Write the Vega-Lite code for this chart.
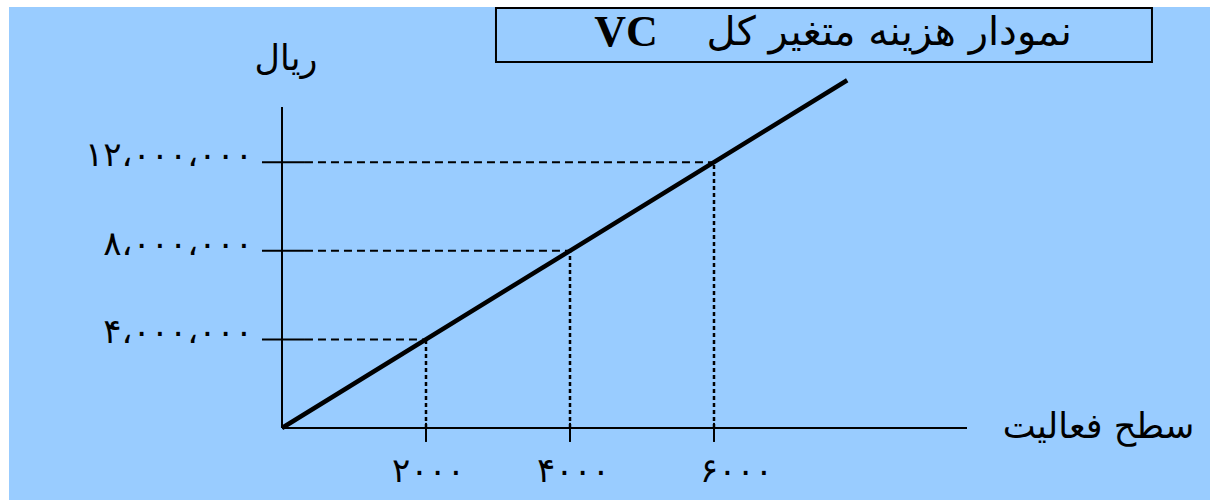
{
  "$schema": "https://vega.github.io/schema/vega-lite/v6.json",
  "autosize": "none",
  "padding": {"left": 9, "top": 7, "right": 0, "bottom": 0},
  "width": 1201,
  "height": 493,
  "background": "white",
  "view": {"fill": "#99ccff", "stroke": null},
  "datasets": {
    "curve": [{"x": 0, "y": 0}, {"x": 7850, "y": 15700000}],
    "axes": [
      {"x": 0, "x2": 0, "y": 0, "y2": 14490000},
      {"x": 0, "x2": 9514, "y": 0, "y2": 0}
    ],
    "yticks": [
      {"x": -278, "x2": 319, "y": 4000000, "y2": 4000000},
      {"x": -278, "x2": 319, "y": 8000000, "y2": 8000000},
      {"x": -278, "x2": 319, "y": 12000000, "y2": 12000000}
    ],
    "hdash": [
      {"x": 319, "x2": 2000, "y": 4000000, "y2": 4000000},
      {"x": 319, "x2": 4000, "y": 8000000, "y2": 8000000},
      {"x": 319, "x2": 6000, "y": 12000000, "y2": 12000000}
    ],
    "xticks": [
      {"x": 2000, "x2": 2000, "y": 230000, "y2": -630000},
      {"x": 4000, "x2": 4000, "y": 230000, "y2": -630000},
      {"x": 6000, "x2": 6000, "y": 230000, "y2": -630000}
    ],
    "vdash": [
      {"x": 2000, "x2": 2000, "y": 0, "y2": 4000000},
      {"x": 4000, "x2": 4000, "y": 0, "y2": 8000000},
      {"x": 6000, "x2": 6000, "y": 0, "y2": 12000000}
    ],
    "ylabels": [
      {"x": -403, "y": 4000000, "t": "۴،۰۰۰،۰۰۰"},
      {"x": -403, "y": 8000000, "t": "۸،۰۰۰،۰۰۰"},
      {"x": -403, "y": 12000000, "t": "۱۲،۰۰۰،۰۰۰"}
    ],
    "xlabels": [
      {"x": 1528, "y": -2000000, "t": "۲۰۰۰"},
      {"x": 3542, "y": -2000000, "t": "۴۰۰۰"},
      {"x": 5806, "y": -2000000, "t": "۶۰۰۰"}
    ],
    "box": [{"x": 2972, "x2": 12083, "y": 18960000, "y2": 16520000}],
    "texts": [
      {"x": 55, "y": 16650000, "t": "ریال"},
      {"x": 11340, "y": 50000, "t": "سطح فعالیت"}
    ],
    "title": [{"x": 10970, "y": 17850000, "t": "نمودار هزینه متغیر کل"}],
    "vc": [{"x": 4778, "y": 17820000, "t": "VC"}]
  },
  "layer": [
    {
      "data": {"name": "box"},
      "mark": {"type": "rect", "fill": null, "stroke": "black", "strokeWidth": 2},
      "encoding": {
        "x": {"field": "x", "type": "quantitative", "scale": {"domain": [-3791.67, 12888.9], "nice": false, "zero": false}, "axis": null},
        "x2": {"field": "x2"},
        "y": {"field": "y", "type": "quantitative", "scale": {"domain": [-3250584, 19006887], "nice": false, "zero": false}, "axis": null},
        "y2": {"field": "y2"}
      }
    },
    {
      "data": {"name": "axes"},
      "mark": {"type": "rule", "color": "black", "strokeWidth": 2},
      "encoding": {"x": {"field": "x", "type": "quantitative"}, "x2": {"field": "x2"}, "y": {"field": "y", "type": "quantitative"}, "y2": {"field": "y2"}}
    },
    {
      "data": {"name": "yticks"},
      "mark": {"type": "rule", "color": "black", "strokeWidth": 2},
      "encoding": {"x": {"field": "x", "type": "quantitative"}, "x2": {"field": "x2"}, "y": {"field": "y", "type": "quantitative"}, "y2": {"field": "y2"}}
    },
    {
      "data": {"name": "hdash"},
      "mark": {"type": "rule", "color": "black", "strokeWidth": 2, "strokeDash": [8, 5]},
      "encoding": {"x": {"field": "x", "type": "quantitative"}, "x2": {"field": "x2"}, "y": {"field": "y", "type": "quantitative"}, "y2": {"field": "y2"}}
    },
    {
      "data": {"name": "xticks"},
      "mark": {"type": "rule", "color": "black", "strokeWidth": 2},
      "encoding": {"x": {"field": "x", "type": "quantitative"}, "x2": {"field": "x2"}, "y": {"field": "y", "type": "quantitative"}, "y2": {"field": "y2"}}
    },
    {
      "data": {"name": "vdash"},
      "mark": {"type": "rule", "color": "black", "strokeWidth": 2.5, "strokeDash": [4, 3]},
      "encoding": {"x": {"field": "x", "type": "quantitative"}, "x2": {"field": "x2"}, "y": {"field": "y", "type": "quantitative"}, "y2": {"field": "y2"}}
    },
    {
      "data": {"name": "curve"},
      "mark": {"type": "line", "color": "black", "strokeWidth": 4.5},
      "encoding": {"x": {"field": "x", "type": "quantitative"}, "y": {"field": "y", "type": "quantitative"}}
    },
    {
      "data": {"name": "ylabels"},
      "mark": {"type": "text", "align": "right", "baseline": "middle", "font": "DejaVu Sans", "fontSize": 34, "dy": -6},
      "encoding": {"x": {"field": "x", "type": "quantitative"}, "y": {"field": "y", "type": "quantitative"}, "text": {"field": "t"}}
    },
    {
      "data": {"name": "xlabels"},
      "mark": {"type": "text", "align": "left", "baseline": "middle", "font": "DejaVu Sans", "fontSize": 34},
      "encoding": {"x": {"field": "x", "type": "quantitative"}, "y": {"field": "y", "type": "quantitative"}, "text": {"field": "t"}}
    },
    {
      "data": {"name": "texts"},
      "mark": {"type": "text", "align": "center", "baseline": "middle", "font": "DejaVu Sans", "fontSize": 35},
      "encoding": {"x": {"field": "x", "type": "quantitative"}, "y": {"field": "y", "type": "quantitative"}, "text": {"field": "t"}}
    },
    {
      "data": {"name": "title"},
      "mark": {"type": "text", "align": "right", "baseline": "middle", "font": "DejaVu Sans", "fontSize": 40},
      "encoding": {"x": {"field": "x", "type": "quantitative"}, "y": {"field": "y", "type": "quantitative"}, "text": {"field": "t"}}
    },
    {
      "data": {"name": "vc"},
      "mark": {"type": "text", "align": "center", "baseline": "middle", "font": "Liberation Serif", "fontWeight": "bold", "fontSize": 44},
      "encoding": {"x": {"field": "x", "type": "quantitative"}, "y": {"field": "y", "type": "quantitative"}, "text": {"field": "t"}}
    }
  ]
}
